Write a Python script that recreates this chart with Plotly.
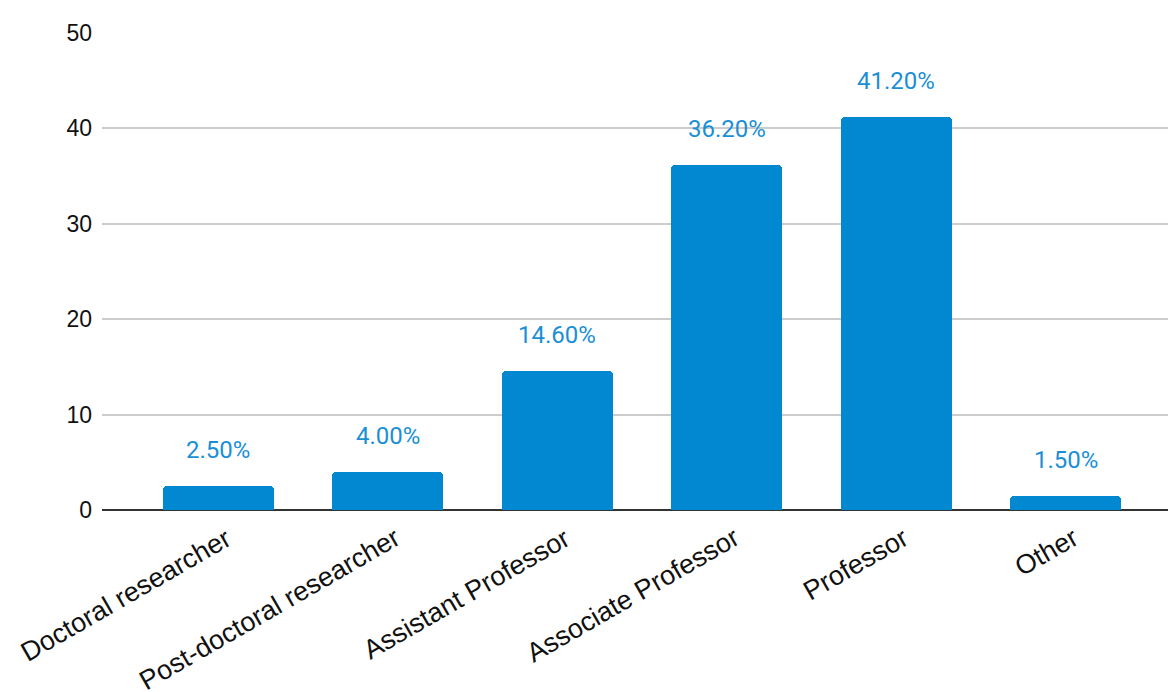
import plotly.graph_objects as go

# Share of respondents by academic position (%)
positions = [
    "Doctoral researcher",
    "Post-doctoral researcher",
    "Assistant Professor",
    "Associate Professor",
    "Professor",
    "Other",
]
shares = [2.5, 4.0, 14.6, 36.2, 41.2, 1.5]
y_ticks = [0, 10, 20, 30, 40, 50]

BAR_COLOR = "#0288D1"
LABEL_COLOR = "#1A8FD6"
TEXT_COLOR = "#111111"

fig = go.Figure()
fig.add_trace(
    go.Bar(
        x=list(range(len(positions))),
        y=shares,
        width=0.655,
        marker=dict(color=BAR_COLOR, line=dict(width=0), cornerradius=4),
        hoverinfo="x+y",
        showlegend=False,
    )
)

# Percentage labels above each bar
for i, v in enumerate(shares):
    fig.add_annotation(
        x=i,
        y=v,
        text=f"{v:.2f}%",
        showarrow=False,
        yanchor="middle",
        yshift=36,
        font=dict(family="Roboto, Arial, sans-serif", size=24, color=LABEL_COLOR),
    )

# Slanted category labels under the axis, right end near each bar centre
for i, name in enumerate(positions):
    fig.add_annotation(
        x=i,
        y=0,
        text=name,
        showarrow=False,
        textangle=-30,
        xanchor="right",
        yanchor="top",
        xshift=19,
        yshift=-11,
        borderpad=0,
        font=dict(family="Liberation Sans, Arial, sans-serif", size=27, color=TEXT_COLOR),
    )

fig.update_layout(
    width=1168,
    height=692,
    margin=dict(l=102, r=0, t=33, b=182, pad=0),
    plot_bgcolor="white",
    paper_bgcolor="white",
    font=dict(family="Liberation Sans, Arial, sans-serif", size=23, color="#222222"),
    bargap=0.0,
)

fig.update_xaxes(
    range=[-0.687, 5.602],
    tickmode="array",
    tickvals=list(range(len(positions))),
    ticktext=positions,
    showticklabels=False,
    showgrid=False,
    zeroline=False,
    showline=False,
    ticks="",
)

fig.update_yaxes(
    range=[0, 50],
    tickmode="array",
    tickvals=y_ticks,
    ticktext=[str(t) for t in y_ticks],
    showgrid=True,
    gridcolor="#CCCCCC",
    gridwidth=1.5,
    zeroline=True,
    zerolinecolor="#333333",
    zerolinewidth=2,
    showline=False,
    ticks="",
    ticklabelstandoff=9,
    tickfont=dict(size=23, color=TEXT_COLOR),
)

fig.write_html("out.html")
